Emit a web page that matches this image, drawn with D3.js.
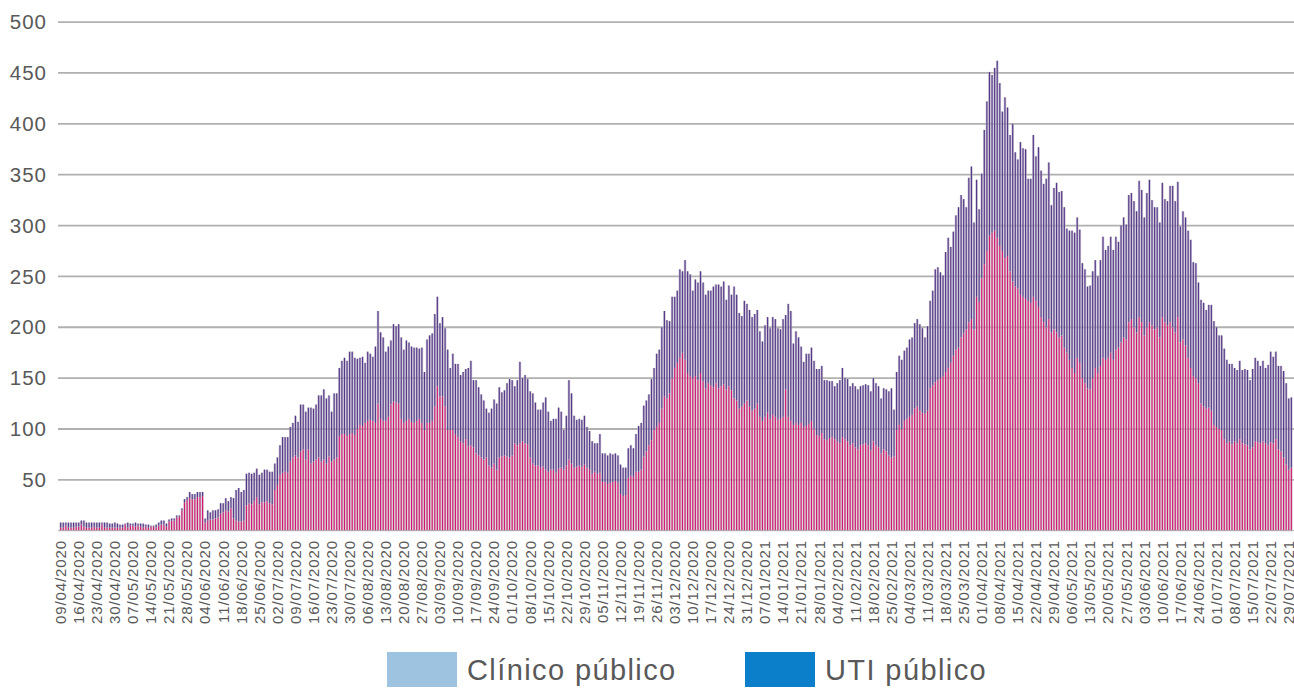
<!DOCTYPE html>
<html><head><meta charset="utf-8">
<script src="https://cdn.jsdelivr.net/npm/d3@7"></script>
<style>html,body{margin:0;padding:0;background:#fff;overflow:hidden}</style>
</head><body>
<svg id="chart" width="1294" height="688"></svg>
<script>
// ---- data ----
const startDate = "2020-04-09";   // first daily category
const seriesNames = ["Clínico público", "UTI público"];
const legendColors = ["#9dc3e0", "#0b7fc9"];
const yTickValues = [50, 100, 150, 200, 250, 300, 350, 400, 450, 500];

const clinico = [
3,3,5,3,3,3,4, 4,6,4,3,3,3,4, 3,3,6,3,3,3,3, 3,3,3,3,6,3,5, 5,4,5,4,3,4,3, 4,4,3,5,6,6,4,
9,10,10,13,14,20,28, 30,32,31,31,33,33,34, 8,10,11,11,12,13,17, 18,20,19,22,12,10,9,
9,10,25,27,26,29,33, 26,28,28,29,27,26,40, 45,55,57,58,57,68,72, 74,72,78,80,70,80,66,
68,70,72,68,70,66,73, 68,70,72,93,95,95,93, 95,96,94,100,104,103,106, 108,109,108,106,125,110,108,
108,112,124,127,126,125,110, 106,108,110,107,106,108,110, 106,99,106,106,108,122,142, 132,132,122,99,99,99,95,
92,88,86,90,83,84,82, 76,74,72,70,72,64,62, 66,60,72,73,74,73,72, 74,86,84,86,88,86,85,
72,66,64,64,62,63,60, 58,60,60,57,61,62,60, 64,70,66,62,63,64,63, 65,62,60,56,58,56,57,
48,48,46,47,48,49,47, 36,34,35,52,54,53,58, 58,60,73,78,84,89,99, 102,106,120,132,130,135,150,
160,165,170,175,168,155,152, 150,152,148,155,147,140,145, 143,141,145,140,142,144,139, 142,138,130,128,120,122,125,
128,122,118,120,125,112,108, 112,116,110,114,112,109,110, 112,139,112,108,104,106,104, 106,102,103,105,108,100,94,
93,96,90,89,91,92,90, 88,86,92,90,88,84,86, 82,80,84,85,86,84,79, 88,84,82,76,80,78,74,
72,73,99,104,100,108,110, 112,114,120,122,118,116,115, 118,140,143,146,148,150,152, 156,160,165,172,178,180,190,
194,198,205,208,198,230,225, 248,262,275,290,293,295,288, 280,275,268,270,255,245,240, 238,232,230,228,226,224,230,
226,220,210,205,200,208,195, 198,195,190,192,180,175,168, 160,155,170,165,150,145,140, 139,150,160,155,162,170,168,
170,175,168,178,180,185,190, 188,205,208,200,195,210,205, 192,200,205,202,198,200,190, 210,205,202,205,200,195,210,
185,188,182,170,160,152,150, 145,125,122,120,121,118,104, 102,100,99,90,86,88,85, 88,86,90,86,85,84,80,
82,88,87,86,88,86,84, 87,86,90,80,78,72,65, 60,62
];

const uti = [
5,5,3,5,5,5,4, 4,4,6,5,5,5,4, 5,5,2,5,5,4,4, 5,4,3,3,1,5,2, 2,4,2,3,4,2,3, 1,1,3,3,4,4,3,
2,2,2,2,1,2,3, 3,6,5,5,5,5,4, 4,10,7,9,8,8,10, 9,12,10,11,20,30,33,
29,30,31,30,30,28,28, 29,29,32,31,31,32,26, 27,29,35,34,35,34,34, 39,35,46,44,47,41,55,
52,54,61,65,69,64,60, 49,65,63,67,72,75,74, 81,80,76,69,66,68,59, 68,65,63,75,91,85,82,
68,69,63,76,75,78,80, 72,79,75,74,74,72,69, 74,57,82,86,86,91,88, 72,78,77,79,61,75,69,
72,65,70,69,77,83,66, 72,67,62,58,48,52,58, 63,65,69,63,64,72,77, 74,56,64,80,62,67,64,
65,69,62,55,57,63,71, 59,48,50,53,60,55,39, 49,78,69,51,46,46,46, 48,40,38,32,28,30,38,
28,28,28,29,27,27,27, 29,28,27,29,30,28,37, 45,46,50,50,50,60,61, 72,72,80,84,77,71,80,
70,71,87,80,98,100,100, 86,95,96,100,97,92,91, 93,99,97,102,98,101,88, 99,94,110,104,94,89,101,
95,95,92,93,92,84,78, 90,94,89,96,96,90,88, 96,73,111,108,80,90,86, 75,64,71,69,72,67,65,
66,66,58,59,56,55,52, 57,62,68,60,61,58,59, 60,59,58,58,58,59,58, 62,61,60,54,60,61,63,
68,46,57,68,68,69,70, 76,76,84,86,85,83,75, 83,86,93,111,111,104,99, 118,128,114,122,132,138,140,
132,120,142,150,105,115,91, 103,132,147,161,155,160,174, 160,137,158,146,134,155,132, 127,150,146,147,120,122,159,
142,157,144,136,146,154,125, 139,147,143,142,138,122,127, 135,138,138,131,113,112,100, 102,105,106,95,104,119,108,
110,114,108,111,104,115,118, 113,125,124,124,119,134,130, 116,132,140,123,120,118,113, 132,121,122,134,139,129,133,
114,126,126,125,126,112,113, 99,102,102,97,101,104,102, 98,92,93,89,82,76,79, 72,72,77,72,74,74,68,
77,82,80,76,79,74,79, 89,85,86,82,84,85,80, 70,69
];

// ---- build ----
const n = clinico.length;
const parse = d3.timeParse("%Y-%m-%d");
const fmt = d3.timeFormat("%d/%m/%Y");
const day0 = parse(startDate);
const days = d3.timeDay.range(day0, d3.timeDay.offset(day0, n));
const rows = days.map((d, i) => ({ i, date: d, clinico: clinico[i], uti: uti[i] }));

const svg = d3.select("#chart");
const step = 2.58;
const x = d3.scaleBand().domain(d3.range(n)).range([59.4, 59.4 + n * step]).paddingInner(0).paddingOuter(0);
const y = d3.scaleLinear().domain([0, 500]).range([530.7, 22.1]);

const FONT = "'Liberation Sans', Arial, sans-serif";
const TXT = "#595959";

// gridlines
svg.append("g").selectAll("line").data(yTickValues).join("line")
  .attr("x1", 58).attr("x2", 1300)
  .attr("y1", d => y(d)).attr("y2", d => y(d))
  .attr("stroke", "#b0b0b0").attr("stroke-width", 1.8);

// stacked bars
const stack = d3.stack().keys(["clinico", "uti"]);
const layers = stack(rows);
const lineColors = ["#cf1670", "#553888"];
const gapColors = ["#c9bcc4", "#b8b1c6"];

const gL = svg.append("g");
layers.forEach((layer, k) => {
  const g = gL.append("g");
  g.selectAll("rect.gap").data(layer).join("rect").attr("class", "gap")
    .attr("x", (d, i) => x(i))
    .attr("width", x.bandwidth())
    .attr("y", d => y(d[1]))
    .attr("height", d => Math.max(0, y(d[0]) - y(d[1])))
    .attr("fill", gapColors[k]).attr("fill-opacity", 0.72);
  g.selectAll("rect.ln").data(layer).join("rect").attr("class", "ln")
    .attr("x", (d, i) => x(i) + 0.7)
    .attr("width", 1.15)
    .attr("y", d => y(d[1]))
    .attr("height", d => Math.max(0, y(d[0]) - y(d[1])))
    .attr("fill", lineColors[k]);
});

// baseline
svg.append("line").attr("x1", 58).attr("x2", 1300).attr("y1", y(0)).attr("y2", y(0))
  .attr("stroke", "#a9a9a9").attr("stroke-width", 1);

// y axis labels
svg.append("g").selectAll("text").data(yTickValues).join("text")
  .attr("x", 47).attr("y", d => y(d)).attr("dy", "0.35em")
  .attr("text-anchor", "end")
  .attr("font-family", FONT).attr("font-size", 20.5).attr("letter-spacing", "1px")
  .attr("fill", TXT).text(d => d);

// x axis labels (every 7 days)
const tickIdx = d3.range(0, n, 7);
svg.append("g").selectAll("text").data(tickIdx).join("text")
  .attr("transform", i => `translate(${x(i) + x.bandwidth() / 2 + 5.3},540) rotate(-90)`)
  .attr("text-anchor", "end")
  .attr("font-family", FONT).attr("font-size", 15).attr("letter-spacing", "0.9px")
  .attr("fill", TXT).text(i => fmt(days[i]));

// legend
const legendX = [387, 745];
const lg = svg.append("g");
seriesNames.forEach((name, k) => {
  lg.append("rect").attr("x", legendX[k]).attr("y", 652).attr("width", 70).attr("height", 35)
    .attr("fill", legendColors[k]);
  lg.append("text").attr("x", legendX[k] + 80).attr("y", 680)
    .attr("font-family", FONT).attr("font-size", 29).attr("letter-spacing", "1.4px")
    .attr("fill", TXT).text(name);
});
</script>
</body></html>
